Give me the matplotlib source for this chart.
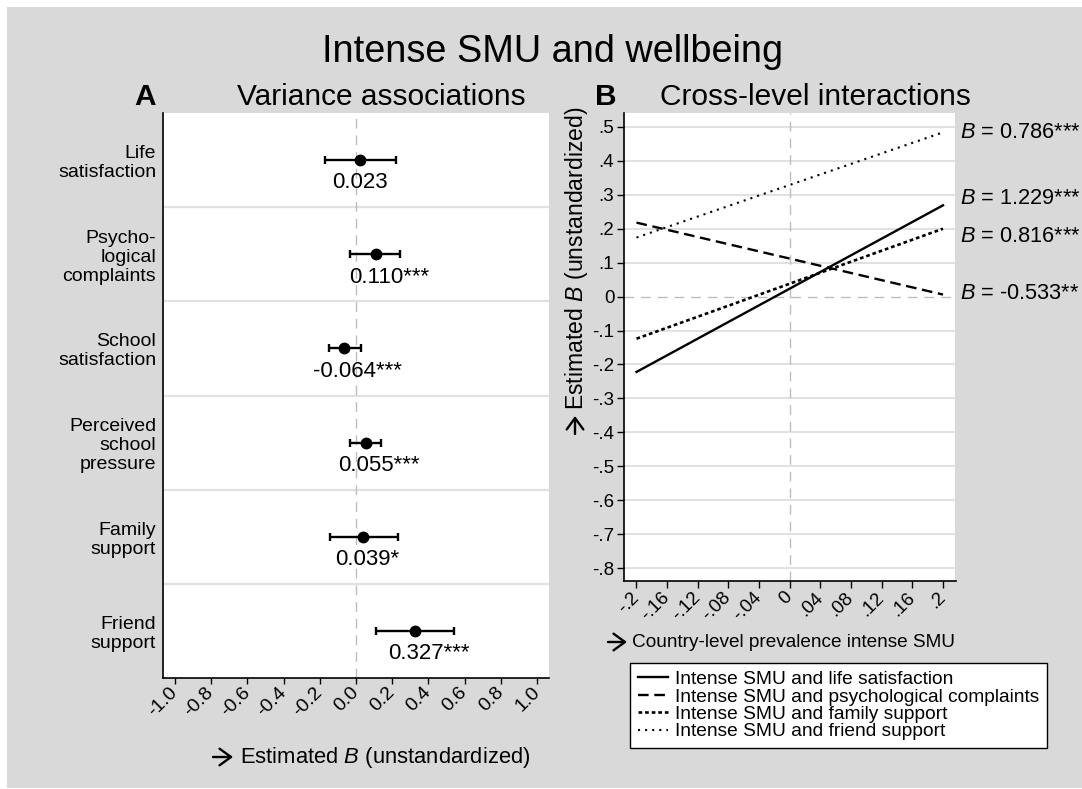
import numpy as np
import matplotlib
matplotlib.use("Agg")
import matplotlib.pyplot as plt
from matplotlib.patches import Rectangle, FancyArrowPatch

plt.rcParams['font.family'] = ['Liberation Sans', 'DejaVu Sans']
plt.rcParams['mathtext.fontset'] = 'custom'
plt.rcParams['mathtext.rm'] = 'Liberation Sans'
plt.rcParams['mathtext.it'] = 'Liberation Sans:italic'

### data: panel A (variance associations) ###
outcomes = ["Life\nsatisfaction", "Psycho-\nlogical\ncomplaints", "School\nsatisfaction",
            "Perceived\nschool\npressure", "Family\nsupport", "Friend\nsupport"]
est = [0.023, 0.110, -0.064, 0.055, 0.039, 0.327]
ci_lo = [-0.170, -0.035, -0.150, -0.035, -0.145, 0.110]
ci_hi = [0.220, 0.245, 0.027, 0.140, 0.230, 0.540]
stars = ["", "***", "***", "***", "*", "***"]
xticks_a = [-1.0, -0.8, -0.6, -0.4, -0.2, 0.0, 0.2, 0.4, 0.6, 0.8, 1.0]

### data: panel B (cross-level interactions) ###
prev = [-0.2, 0.2]
life = [-0.222, 0.269]
psych = [0.218, 0.006]
family = [-0.124, 0.200]
friend = [0.174, 0.484]
b_text = ["1.229***", "-0.533**", "0.816***", "0.786***"]
b_text_y = [0.289, 0.009, 0.177, 0.485]
legend_names = ["Intense SMU and life satisfaction",
                "Intense SMU and psychological complaints",
                "Intense SMU and family support",
                "Intense SMU and friend support"]
xticks_b = [-0.2, -0.16, -0.12, -0.08, -0.04, 0, 0.04, 0.08, 0.12, 0.16, 0.2]
yticks_b = [0.5, 0.4, 0.3, 0.2, 0.1, 0, -0.1, -0.2, -0.3, -0.4, -0.5, -0.6, -0.7, -0.8]

W, H = 1082, 789
bg = '#d9d9d9'
grid_c = '#e1e1e1'
ref_c = '#bdbdbd'

def fx(x):
    return x / W

def fy(y):
    return 1 - y / H

def stata_fmt(v):
    s = "%g" % round(v, 4)
    if s.startswith("0."):
        s = s[1:]
    elif s.startswith("-0."):
        s = "-" + s[2:]
    return s

def arrow(x0, y0, x1, y1):
    # open-headed arrow like the Stata "->" glyph, in pixel coords
    fig.add_artist(FancyArrowPatch((fx(x0), fy(y0)), (fx(x1), fy(y1)),
                                   transform=fig.transFigure,
                                   arrowstyle='->,head_length=0.55,head_width=0.4',
                                   mutation_scale=15, lw=1.7, color='black',
                                   shrinkA=0, shrinkB=0))

fig = plt.figure(figsize=(W / 100, H / 100), dpi=100, facecolor='white')
fig.patches.append(Rectangle((fx(7), fy(788)), fx(W - 7), 781 / H,
                             transform=fig.transFigure, facecolor=bg,
                             edgecolor='none', zorder=-5))

fig.text(fx(552), fy(62), "Intense SMU and wellbeing", fontsize=27.3, ha='center', va='baseline')

######################################################################
# Panel A
axA = fig.add_axes([fx(163), fy(678), fx(549 - 163), (678 - 113) / H])
axA.set_facecolor('white')
ypos = np.arange(len(outcomes))[::-1] + 1
for sep in np.arange(1.5, len(outcomes), 1.0):
    axA.axhline(sep, color=grid_c, lw=1.6, zorder=1)
axA.axvline(0, color=ref_c, lw=1.0, dashes=(7, 5), zorder=1)
xerr = [np.array(est) - np.array(ci_lo), np.array(ci_hi) - np.array(est)]
axA.errorbar(est, ypos, xerr=xerr, fmt='o', color='black', ms=7.5, lw=1.7,
             capsize=3.2, capthick=1.7, zorder=3)
for e, y, s in zip(est, ypos, stars):
    axA.annotate("%.3f%s" % (e, s), (e, y), xytext=(3.2 * len(s), -16.5),
                 textcoords='offset points', ha='center', va='center', fontsize=16)
axA.set_xlim(-1.066, 1.066)
axA.set_ylim(0.5, len(outcomes) + 0.5)
axA.set_yticks(ypos)
axA.set_yticklabels(outcomes, fontsize=14, linespacing=1.15)
axA.tick_params(axis='y', length=0, pad=5)
axA.set_xticks(xticks_a)
axA.set_xticklabels(["%.1f" % v for v in xticks_a], fontsize=14, rotation=45,
                    ha='right', va='center', rotation_mode='anchor')
axA.tick_params(axis='x', length=4.5, width=1, pad=4)
for side in ['top', 'right']:
    axA.spines[side].set_visible(False)
for side in ['left', 'bottom']:
    axA.spines[side].set_linewidth(1.2)

fig.text(fx(145), fy(105), "A", fontsize=21.5, fontweight='bold', ha='center', va='baseline')
fig.text(fx(381), fy(105), "Variance associations", fontsize=21.5, ha='center', va='baseline')
arrow(213, 757, 233, 757)
fig.text(fx(240), fy(763), "Estimated $B$ (unstandardized)", fontsize=15.8, ha='left', va='baseline')

######################################################################
# Panel B
axB = fig.add_axes([fx(624), fy(581), fx(955.5 - 624), (581 - 113) / H])
axB.set_facecolor('white')
for yv in yticks_b:
    if yv != 0:
        axB.axhline(yv, color=grid_c, lw=1.4, zorder=1)
axB.axhline(0, color=ref_c, lw=1.0, dashes=(7, 5), zorder=1)
axB.axvline(0, color=ref_c, lw=1.0, dashes=(7, 5), zorder=1)

l1, = axB.plot(prev, life, color='black', lw=1.7, zorder=3)
l2, = axB.plot(prev, psych, color='black', lw=1.7, dashes=(4.5, 2.4), zorder=3)
l3, = axB.plot(prev, family, color='black', lw=1.9, dashes=(1.4, 1.1), zorder=3)
l4, = axB.plot(prev, friend, color='black', lw=1.5, dashes=(1.0, 2.4), zorder=3)

for t, yv in zip(b_text, b_text_y):
    axB.text(0.2222, yv, "$B$ = " + t, fontsize=15.7, ha='left', va='center', clip_on=False)

axB.set_xlim(-0.2163, 0.2163)
axB.set_ylim(-0.838, 0.541)
axB.set_xticks(xticks_b)
axB.set_xticklabels([stata_fmt(v) for v in xticks_b], fontsize=13.5, rotation=45,
                    ha='right', va='center', rotation_mode='anchor')
axB.set_yticks(yticks_b)
axB.set_yticklabels([stata_fmt(v) for v in yticks_b], fontsize=13.5)
axB.tick_params(axis='both', length=5, width=1, pad=2)
axB.tick_params(axis='x', pad=5)
for side in ['top', 'right']:
    axB.spines[side].set_visible(False)
for side in ['left', 'bottom']:
    axB.spines[side].set_linewidth(1.2)

fig.text(fx(606), fy(105), "B", fontsize=21.5, fontweight='bold', ha='center', va='baseline')
fig.text(fx(815), fy(105), "Cross-level interactions", fontsize=21.5, ha='center', va='baseline')
arrow(575, 434, 575, 416)
fig.text(fx(577), fy(410), "Estimated $B$ (unstandardized)", fontsize=16.6,
         ha='center', va='bottom', rotation=90)
arrow(608, 642, 627, 642)
fig.text(fx(632), fy(647), "Country-level prevalence intense SMU", fontsize=13.7,
         ha='left', va='baseline')

leg = fig.legend([l1, l2, l3, l4], legend_names, loc='upper left',
                 bbox_to_anchor=(fx(630), fy(663)), bbox_transform=fig.transFigure,
                 borderaxespad=0, fontsize=13.8, frameon=True, fancybox=False,
                 framealpha=1, handlelength=1.6, handletextpad=0.35, labelspacing=0.0,
                 borderpad=0.4)
leg.get_frame().set_edgecolor('black')
leg.get_frame().set_linewidth(1.0)
leg.get_frame().set_facecolor('white')

plt.savefig("out.png", dpi=100, facecolor=fig.get_facecolor())
